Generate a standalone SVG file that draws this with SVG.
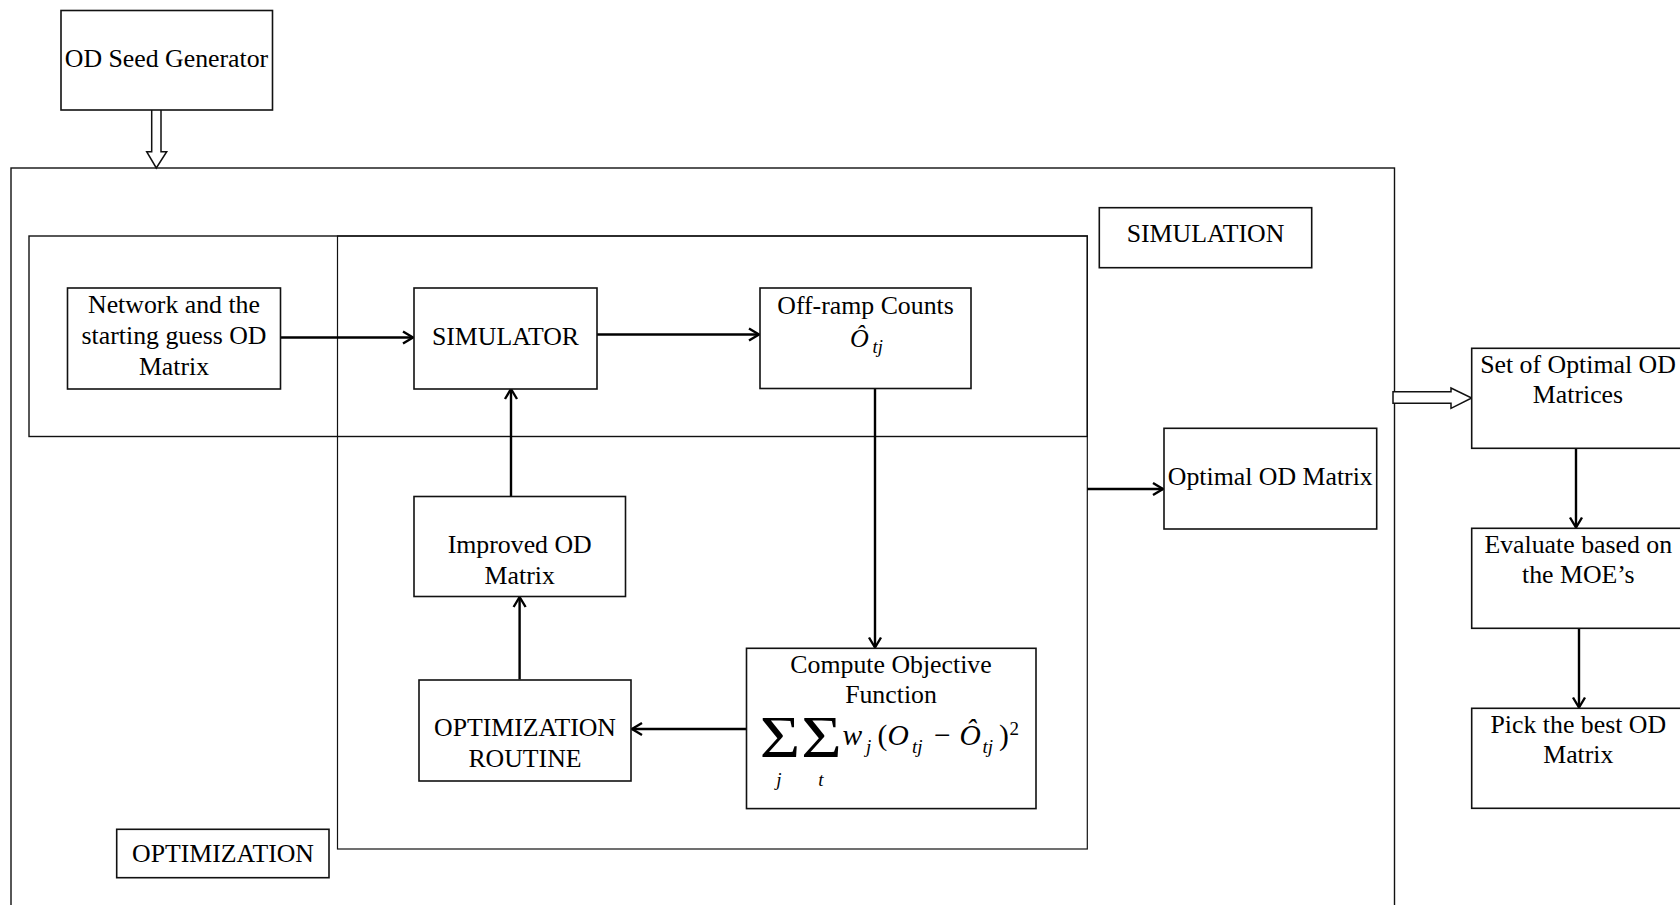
<svg xmlns="http://www.w3.org/2000/svg" width="1680" height="905" viewBox="0 0 1680 905">
  <style>
    .box { fill: #fff; stroke: #111; stroke-width: 1.6; }
    .frame { fill: none; stroke: #111; stroke-width: 1.4; }
    .thin { fill: none; stroke: #111; stroke-width: 1.2; }
    .lbl { font-family: "Liberation Serif", "Times New Roman", serif; font-size: 25.8px; fill: #000; text-anchor: middle; }
    .m { font-family: "Liberation Serif", "Times New Roman", serif; fill: #000; }
    .it { font-style: italic; }
    .wire { fill: none; stroke: #000; stroke-width: 2.4; marker-end: url(#arr); }
    .hollow { fill: #fff; stroke: #111; stroke-width: 1.5; stroke-linejoin: miter; }
  </style>
  <defs>
    <marker id="arr" markerUnits="userSpaceOnUse" markerWidth="14" markerHeight="16" refX="11" refY="7" orient="auto" overflow="visible">
      <path d="M1,1 L11,7 L1,13" fill="none" stroke="#000" stroke-width="2.4" stroke-linejoin="miter"/>
    </marker>
  </defs>

  <rect width="1680" height="905" fill="#fff"/>

  <!-- outer frame and region boxes -->
  <g id="outer-frame">
    <rect class="frame" x="11" y="168" width="1383.5" height="760"/>
  </g>
  <g id="simulation-region">
    <rect class="frame" x="29" y="236" width="1058.3" height="200.5"/>
  </g>
  <g id="optimization-region">
    <rect class="thin" x="337.5" y="236" width="749.8" height="613"/>
  </g>

  <!-- connectors -->
  <g id="connectors">
    <polygon class="hollow" points="151.7,109 161,109 161,151.7 166.7,151.7 156.3,168 146.7,151.7 151.7,151.7"/>
    <polygon class="hollow" points="1393,391.7 1451,391.7 1451,388 1471.7,398 1451,408.3 1451,403.3 1393,403.3"/>
    <line class="wire" x1="281" y1="337.5" x2="413" y2="337.5"/>
    <line class="wire" x1="597" y1="334.5" x2="759" y2="334.5"/>
    <line class="wire" x1="875" y1="388.5" x2="875" y2="647.5"/>
    <line class="wire" x1="746.5" y1="729" x2="632" y2="729"/>
    <line class="wire" x1="519.6" y1="679.5" x2="519.6" y2="597"/>
    <line class="wire" x1="511" y1="496" x2="511" y2="389"/>
    <line class="wire" x1="1087.3" y1="489" x2="1163" y2="489"/>
    <line class="wire" x1="1576" y1="448.5" x2="1576" y2="527.5"/>
    <line class="wire" x1="1579" y1="628.5" x2="1579" y2="707.5"/>
  </g>

  <!-- nodes -->
  <g id="od-seed-generator">
    <rect class="box" x="61" y="10.5" width="211.5" height="99.5"/>
    <text class="lbl" x="166.5" y="66.5">OD Seed Generator</text>
  </g>

  <g id="network-start">
    <rect class="box" x="67.5" y="288" width="213" height="101"/>
    <text class="lbl" x="174" y="313">Network and the</text>
    <text class="lbl" x="174" y="344">starting guess OD</text>
    <text class="lbl" x="174" y="375">Matrix</text>
  </g>

  <g id="simulator">
    <rect class="box" x="414" y="288" width="183" height="101"/>
    <text class="lbl" x="505.5" y="345">SIMULATOR</text>
  </g>

  <g id="off-ramp-counts">
    <rect class="box" x="760" y="288" width="211" height="100.5"/>
    <text class="lbl" x="865.5" y="313.5">Off-ramp Counts</text>
    <text class="m it" x="850" y="347" font-size="26">Ô</text>
    <text class="m it" x="872.5" y="353" font-size="18.5">tj</text>
  </g>

  <g id="compute-objective">
    <rect class="box" x="746.5" y="648.3" width="289.5" height="160.3"/>
    <text class="lbl" x="891" y="673">Compute Objective</text>
    <text class="lbl" x="891" y="703">Function</text>
    <text class="m" transform="translate(780,757) scale(1.2,1.02)" font-size="58" text-anchor="middle">Σ</text>
    <text class="m" transform="translate(821.5,757) scale(1.2,1.02)" font-size="58" text-anchor="middle">Σ</text>
    <text class="m it" x="779" y="786" font-size="19" text-anchor="middle">j</text>
    <text class="m it" x="821" y="786" font-size="19" text-anchor="middle">t</text>
    <text class="m it" x="842.5" y="745" font-size="29.5">w</text>
    <text class="m it" x="866" y="752.5" font-size="19">j</text>
    <text class="m" x="877.5" y="745" font-size="29.5">(</text>
    <text class="m it" x="887.5" y="745" font-size="29.5">O</text>
    <text class="m it" x="912" y="753" font-size="19">tj</text>
    <text class="m" x="934" y="745" font-size="29.5">−</text>
    <text class="m it" x="959.5" y="745" font-size="29.5">Ô</text>
    <text class="m it" x="982.5" y="753" font-size="19">tj</text>
    <text class="m" x="999" y="745" font-size="29.5">)</text>
    <text class="m" x="1009.5" y="735" font-size="19">2</text>
  </g>

  <g id="optimization-routine">
    <rect class="box" x="419" y="680" width="212" height="101"/>
    <text class="lbl" x="525" y="736">OPTIMIZATION</text>
    <text class="lbl" x="525" y="767">ROUTINE</text>
  </g>

  <g id="improved-od-matrix">
    <rect class="box" x="414" y="496.5" width="211.5" height="100"/>
    <text class="lbl" x="519.7" y="553">Improved OD</text>
    <text class="lbl" x="519.7" y="584">Matrix</text>
  </g>

  <g id="simulation-label">
    <rect class="box" x="1099.3" y="207.7" width="212.4" height="60"/>
    <text class="lbl" x="1205.5" y="242">SIMULATION</text>
  </g>

  <g id="optimization-label">
    <rect class="box" x="116.7" y="829.3" width="212.3" height="48.4"/>
    <text class="lbl" x="223" y="862">OPTIMIZATION</text>
  </g>

  <g id="optimal-od-matrix">
    <rect class="box" x="1164" y="428.3" width="212.7" height="100.7"/>
    <text class="lbl" x="1270.3" y="485">Optimal OD Matrix</text>
  </g>

  <g id="set-of-optimal">
    <rect class="box" x="1471.7" y="348.3" width="214" height="100"/>
    <text class="lbl" x="1578" y="373">Set of Optimal OD</text>
    <text class="lbl" x="1578" y="403">Matrices</text>
  </g>

  <g id="evaluate-moe">
    <rect class="box" x="1471.7" y="528.3" width="214" height="100"/>
    <text class="lbl" x="1578.3" y="553">Evaluate based on</text>
    <text class="lbl" x="1578.3" y="583.3">the MOE’s</text>
  </g>

  <g id="pick-best">
    <rect class="box" x="1471.7" y="708.3" width="214" height="100"/>
    <text class="lbl" x="1578.3" y="733.3">Pick the best OD</text>
    <text class="lbl" x="1578.3" y="763.3">Matrix</text>
  </g>
</svg>
